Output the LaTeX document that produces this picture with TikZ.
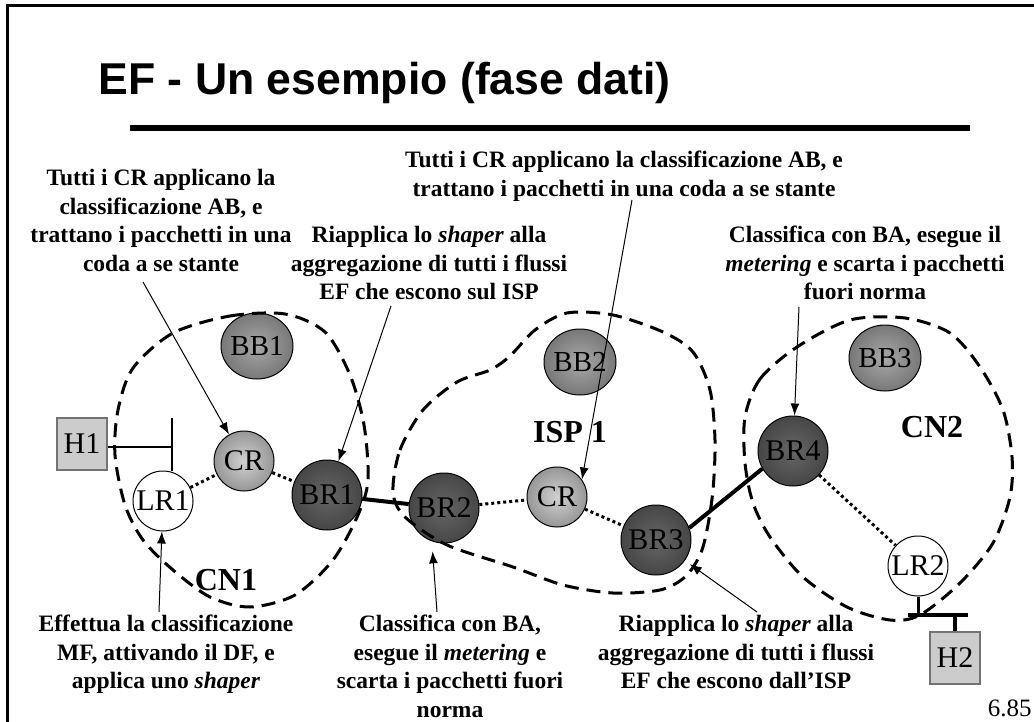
\documentclass[tikz,border=0pt]{standalone}
\usepackage{fontspec}
\setmainfont{Liberation Serif}
\setsansfont{Liberation Sans}
\usetikzlibrary{arrows.meta,shapes.geometric}

\definecolor{brin}{gray}{0.40}
\definecolor{brout}{gray}{0.15}
\definecolor{crin}{gray}{0.82}
\definecolor{crout}{gray}{0.36}
\definecolor{bbin}{gray}{0.66}
\definecolor{bbout}{gray}{0.28}
\definecolor{hostfill}{gray}{0.80}
\definecolor{hostline}{gray}{0.45}

\pgfdeclareradialshading{brshade}{\pgfpoint{0bp}{0bp}}{color(0bp)=(brin); color(50bp)=(brout); color(72bp)=(brout)}
\pgfdeclareradialshading{crshade}{\pgfpoint{0bp}{0bp}}{color(0bp)=(crin); color(50bp)=(crout); color(72bp)=(crout)}
\pgfdeclareradialshading{bbshade}{\pgfpoint{0bp}{0bp}}{color(0bp)=(bbin); color(50bp)=(bbout); color(72bp)=(bbout)}

\begin{document}
\begin{tikzpicture}[x=0.5pt, y=-0.5pt,
  note/.style={font=\fontsize{11.75}{14.25}\selectfont\bfseries, align=center, inner sep=0pt, anchor=north},
  rtr/.style={circle, draw, line width=0.5pt, inner sep=0pt, font=\fontsize{15}{18}\selectfont},
  brnode/.style={rtr, minimum size=35pt, shading=brshade},
  crnode/.style={rtr, minimum size=30pt, shading=crshade},
  lrnode/.style={rtr, minimum size=30pt, fill=white},
  bbnode/.style={ellipse, draw, line width=0.5pt, inner sep=-1pt, minimum width=36pt, minimum height=33pt, shading=bbshade, font=\fontsize{14.5}{18}\selectfont},
  host/.style={rectangle, draw=hostline, fill=hostfill, line width=0.6pt, minimum width=25pt, minimum height=26pt, inner sep=0pt, font=\fontsize{15}{18}\selectfont},
  netarea/.style={dash pattern=on 7pt off 4pt, line width=1.5pt},
  dots/.style={dash pattern=on 1.5pt off 1.5pt, line width=1.5pt},
  trunk/.style={line width=2pt},
  arr/.style={-{Latex[length=6pt,width=4.5pt]}, line width=0.5pt},
  lbl/.style={font=\fontsize{16}{19}\selectfont\bfseries, inner sep=0pt}
  ]
  \useasboundingbox (0,0) rectangle (1034,722);

  % slide frame and title
  \draw[line width=1.5pt] (7,722) -- (7,6) -- (1034,6);
  \node[anchor=base west, inner sep=0pt, font=\fontsize{22.3}{26}\selectfont\sffamily\bfseries] (title) at (98,95) {EF - Un esempio (fase dati)};
  \draw[line width=3pt] (130,128) -- (970,128);

  % routers
  \node[host] (H1) at (82,444) {H1};
  \node[lrnode] (LR1) at (163,501) {LR1};
  \node[crnode] (CR1) at (244,461) {CR};
  \node[bbnode] (BB1) at (257,346) {BB1};
  \node[brnode] (BR1) at (327,495) {BR1};
  \node[brnode] (BR2) at (444,508) {BR2};
  \node[crnode] (CR2) at (557,497) {CR};
  \node[bbnode] (BB2) at (580,362) {BB2};
  \node[brnode] (BR3) at (656,540) {BR3};
  \node[brnode] (BR4) at (793,451) {BR4};
  \node[bbnode] (BB3) at (885,358) {BB3};
  \node[lrnode] (LR2) at (918,566) {LR2};
  \node[host] (H2) at (955,658) {H2};

  \node[lbl] (cn1) at (226,580) {CN1};
  \node[lbl] (isp) at (570,432) {ISP 1};
  \node[lbl] (cn2) at (932,427) {CN2};

  % domains
  \draw[netarea] plot[smooth cycle] coordinates {(173,333) (230,316) (285,314) (325,332) (350,375) (364,425) (368,480) (358,515) (333,560) (295,595) (250,607) (210,597) (173,570) (143,540) (125,505) (115,455) (118,410) (133,368)};
  \draw[netarea] plot[smooth cycle] coordinates {(393,492) (400,450) (423,410) (457,382) (490,370) (510,356) (535,330) (567,313) (613,315) (663,332) (693,352) (710,390) (715,440) (713,490) (707,530) (700,555) (685,577) (660,590) (613,593) (563,585) (513,567) (447,545) (405,517)};
  \draw[netarea] plot[smooth cycle] coordinates {(797,347) (760,379) (745,417) (745,463) (753,503) (770,537) (803,577) (847,607) (890,620) (920,615) (960,583) (993,543) (1010,497) (1012,457) (1003,410) (980,367) (950,333) (905,318) (850,320)};

  % links
  \coordinate (h1j) at (172,447);
  \coordinate (h1t) at (172,418);
  \draw[line width=0.75pt] (H1.east |- h1j) -- (h1j);
  \draw[line width=0.75pt] (h1t) -- (h1t |- LR1.north);
  \draw[dots] (LR1) -- (CR1);
  \draw[dots] (CR1) -- (BR1);
  \draw[trunk] (BR1) -- (BR2); %% CN1->ISP
  \draw[dots] (BR2) -- (CR2);
  \draw[dots] (CR2) -- (BR3);
  \draw[trunk] (BR3.20) -- (BR4.210); %% ISP->CN2
  \draw[dots] (BR4) -- (LR2);
  \coordinate (h2l) at (908,615);
  \coordinate (h2r) at (968,615);
  \draw[line width=1.5pt] (LR2.south) -- (LR2.south |- h2l);
  \draw[trunk] (h2l) -- (h2r);
  \draw[trunk] (H2.north) -- (H2.north |- h2r);

  % notes
  \node[note] (t1) at (161,169) {Tutti i CR applicano la\\classificazione AB, e\\trattano i pacchetti in una\\coda a se stante};
  \node[note] (t2) at (624,151) {Tutti i CR applicano la classificazione AB, e\\trattano i pacchetti in una coda a se stante};
  \node[note] (t3) at (429,226) {Riapplica lo \textit{shaper} alla\\aggregazione di tutti i flussi\\EF che escono sul ISP};
  \node[note] (t4) at (865,226) {Classifica con BA, esegue il\\\textit{metering} e scarta i pacchetti\\fuori norma};
  \node[note] (t5) at (166,615) {Effettua la classificazione\\MF, attivando il DF, e\\applica uno \textit{shaper}};
  \node[note] (t6) at (450,615) {Classifica con BA,\\esegue il \textit{metering} e\\scarta i pacchetti fuori\\norma};
  \node[note] (t7) at (736,615) {Riapplica lo \textit{shaper} alla\\aggregazione di tutti i flussi\\EF che escono dall’ISP};
  \node[anchor=base east, inner sep=0pt, font=\fontsize{12.5}{15}\selectfont] (page) at (1032,716) {6.85};

  % pointers
  \coordinate (a1) at (143,282);
  \coordinate (a2) at (391,306);
  \coordinate (a3) at (632,200);
  \coordinate (a4) at (799,307);
  \coordinate (a5) at (159,612);
  \coordinate (a6) at (437,612);
  \coordinate (a7) at (757,612);
  \draw[arr] (a1) -- (CR1);
  \draw[arr] (a2) -- (BR1);
  \draw[arr] (a3) -- (CR2.35);
  \draw[arr] (a4) -- (BR4);
  \draw[arr] (a5) -- (LR1);
  \draw[arr, shorten >=5pt] (a6) -- (BR2.250);
  \draw[arr, shorten >=3pt] (a7) -- (BR3);
\end{tikzpicture}
\end{document}
